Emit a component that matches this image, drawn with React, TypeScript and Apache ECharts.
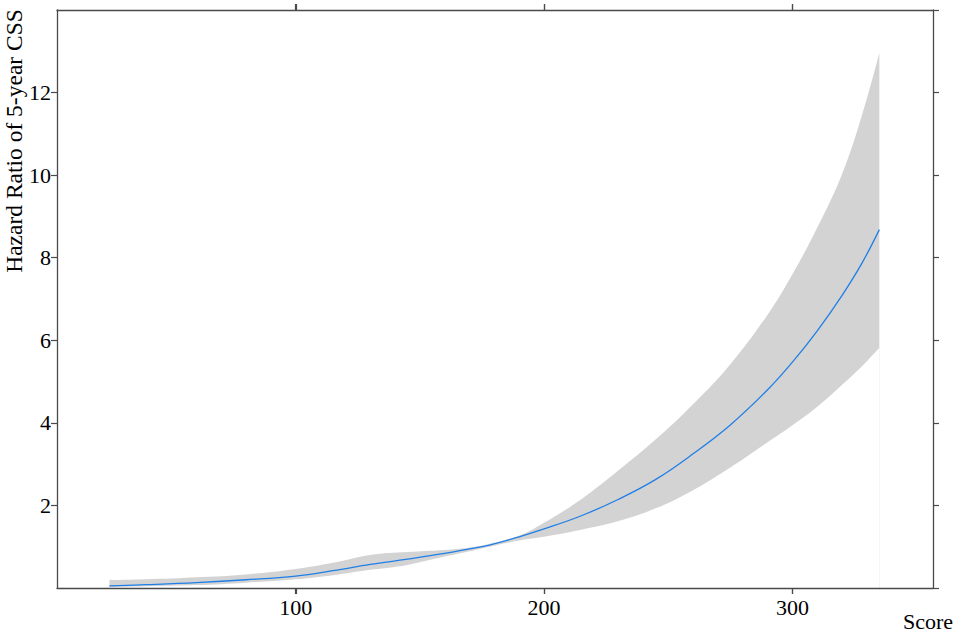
import React, { useEffect, useRef } from "react";
import * as echarts from "echarts";

const scores = [25, 40, 60, 80, 100, 115, 130, 145, 160, 170, 178, 190, 200, 215, 230, 245, 260, 275, 290, 300, 310, 320, 328, 335];
const hazard = [0.05, 0.08, 0.13, 0.2, 0.29, 0.42, 0.57, 0.7, 0.84, 0.95, 1.04, 1.24, 1.43, 1.75, 2.15, 2.63, 3.25, 3.95, 4.8, 5.47, 6.23, 7.09, 7.87, 8.68];
const upper = [0.19, 0.21, 0.26, 0.33, 0.46, 0.61, 0.8, 0.87, 0.92, 0.98, 1.07, 1.27, 1.58, 2.15, 2.85, 3.6, 4.45, 5.42, 6.62, 7.6, 8.73, 10.03, 11.45, 12.96];
const lower = [0.02, 0.04, 0.07, 0.13, 0.21, 0.31, 0.44, 0.56, 0.76, 0.89, 1.0, 1.15, 1.24, 1.41, 1.62, 1.93, 2.37, 2.92, 3.53, 3.94, 4.39, 4.92, 5.37, 5.82];
const xTicks = [100, 200, 300];
const yTicks = [0, 2, 4, 6, 8, 10, 12, 14];

const FONT = "Liberation Serif";
const AXIS_COLOR = "#4a4a4a";

export default function App() {
  const ref = useRef<HTMLDivElement>(null);
  useEffect(() => {
    if (!ref.current) return;
    const chart = echarts.init(ref.current, null, { renderer: "svg" });
    const axisCommonX = {
      type: "value",
      min: 3.9,
      max: 356.6,
      splitLine: { show: false },
      axisLine: { show: true, onZero: false, lineStyle: { color: AXIS_COLOR, width: 1.3 } },
      axisTick: { show: true, inside: false, length: 6, customValues: xTicks, lineStyle: { color: AXIS_COLOR, width: 1.2 } },
    };
    const axisCommonY = {
      type: "value",
      min: 0,
      max: 14,
      interval: 2,
      splitLine: { show: false },
      axisLine: { show: true, onZero: false, lineStyle: { color: AXIS_COLOR, width: 1.3 } },
      axisTick: { show: true, inside: false, length: 6, customValues: yTicks, lineStyle: { color: AXIS_COLOR, width: 1.2 } },
    };
    const texts = [
      {
        id: "ytitle",
        type: "text",
        x: 14,
        y: 141,
        rotation: Math.PI / 2,
        style: {
          text: "Hazard Ratio of 5-year CSS",
          fontFamily: FONT,
          fontSize: 23.5,
          fill: "#000",
          textAlign: "center",
          textVerticalAlign: "middle",
        },
      },
      {
        id: "xtitle",
        type: "text",
        x: 928,
        y: 621,
        style: {
          text: "Score",
          fontFamily: FONT,
          fontSize: 22,
          fill: "#000",
          textAlign: "center",
          textVerticalAlign: "middle",
        },
      },
    ];
    chart.setOption({
      animation: false,
      grid: { left: 57, right: 24, top: 10, bottom: 45, containLabel: false },
      xAxis: [
        {
          ...axisCommonX,
          position: "bottom",
          axisLabel: { show: true, customValues: xTicks, margin: 8, color: "#000", fontFamily: FONT, fontSize: 22 },
        },
        {
          ...axisCommonX,
          position: "top",
          axisLabel: { show: false, customValues: xTicks },
        },
      ],
      yAxis: [
        {
          ...axisCommonY,
          position: "left",
          axisLabel: {
            show: true,
            margin: 6,
            showMinLabel: false,
            showMaxLabel: false,
            color: "#000",
            fontFamily: FONT,
            fontSize: 22,
          },
        },
        {
          ...axisCommonY,
          position: "right",
          axisLabel: { show: false },
        },
      ],
      graphic: texts,
      series: [
        {
          type: "line",
          name: "upper",
          xAxisIndex: 0,
          yAxisIndex: 0,
          silent: true,
          data: scores.map((s, i) => [s, upper[i]]),
          smooth: 0.4,
          symbol: "none",
          showSymbol: false,
          lineStyle: { opacity: 0, width: 0 },
          areaStyle: { color: "#d3d3d3", opacity: 1, origin: "start" },
          z: -2,
        },
        {
          type: "line",
          name: "lower",
          xAxisIndex: 0,
          yAxisIndex: 0,
          silent: true,
          data: scores.map((s, i) => [s, lower[i]]),
          smooth: 0.4,
          symbol: "none",
          showSymbol: false,
          lineStyle: { opacity: 0, width: 0 },
          areaStyle: { color: "#ffffff", opacity: 1, origin: "start" },
          z: -1,
        },
        {
          type: "line",
          name: "HR",
          xAxisIndex: 0,
          yAxisIndex: 0,
          data: scores.map((s, i) => [s, hazard[i]]),
          smooth: 0.4,
          showSymbol: false,
          symbol: "none",
          lineStyle: { color: "#1f7fe6", width: 1.3 },
          z: 2,
        },
      ],
    });
    // tick marks on top and bottom edges, positioned through the axis scales
    const yBottom = chart.convertToPixel({ yAxisIndex: 0 }, 0) as number;
    const yTop = chart.convertToPixel({ yAxisIndex: 0 }, 14) as number;
    const tickMarks: any[] = [];
    xTicks.forEach((v, i) => {
      const px = Math.round(chart.convertToPixel({ xAxisIndex: 0 }, v) as number) + 0.5;
      tickMarks.push({
        id: "tb" + i,
        type: "line",
        silent: true,
        z: 10,
        shape: { x1: px, y1: yBottom, x2: px, y2: yBottom + 6 },
        style: { stroke: AXIS_COLOR, lineWidth: 1.2 },
      });
      tickMarks.push({
        id: "tt" + i,
        type: "line",
        silent: true,
        z: 10,
        shape: { x1: px, y1: yTop, x2: px, y2: yTop - 6 },
        style: { stroke: AXIS_COLOR, lineWidth: 1.2 },
      });
    });
    chart.setOption({ graphic: [...texts, ...tickMarks] });
    return () => chart.dispose();
  }, []);
  return (
    <div
      ref={ref}
      style={{ position: "fixed", left: 0, top: 0, width: 957, height: 633, background: "#fff" }}
    />
  );
}
